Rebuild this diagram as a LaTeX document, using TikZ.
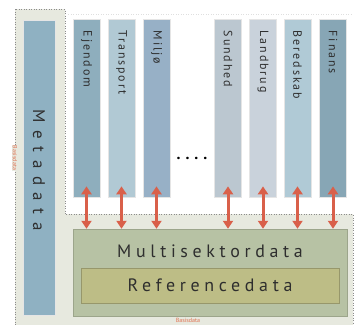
\documentclass[tikz,border=0pt]{standalone}
\usepackage{fontspec}
\setmainfont{PT Sans}
\newfontfamily\barfont[LetterSpace=16]{PT Sans}
\newfontfamily\widefont[LetterSpace=26]{PT Sans}
\newfontfamily\metafont[LetterSpace=45]{PT Sans}
\newfontfamily\dotfont[LetterSpace=30]{PT Sans}
\usetikzlibrary{arrows.meta, calc}

\definecolor{basis}{HTML}{E7E9DF}
\definecolor{basisline}{HTML}{8C8C8C}
\definecolor{metabar}{HTML}{8FB1C2}
\definecolor{ejendomc}{HTML}{8EAEBD}
\definecolor{transportc}{HTML}{B1C9D4}
\definecolor{miljoc}{HTML}{97B0C6}
\definecolor{sundhedc}{HTML}{BBC7D0}
\definecolor{landbrugc}{HTML}{C9D2DB}
\definecolor{beredskabc}{HTML}{B0CAD6}
\definecolor{finansc}{HTML}{87A6B5}
\definecolor{multic}{HTML}{B7C2A4}
\definecolor{refc}{HTML}{BDBD86}
\definecolor{linkc}{HTML}{D9604A}
\definecolor{labelred}{HTML}{E07050}
\definecolor{textc}{HTML}{2E2E2E}

\tikzset{
  sectorbar/.style={draw=white!80!gray, line width=0.6bp, minimum width=27bp,
    minimum height=178bp, inner sep=0pt},
  bartext/.style={rotate=-90, anchor=west, text=textc, inner sep=0pt,
    font=\barfont\fontsize{12}{12}\selectfont},
  link/.style={{Triangle[width=10bp,length=8bp]}-{Triangle[width=10bp,length=8bp]},
    line width=3bp, linkc},
  dotline/.style={basisline, line width=1bp, dash pattern=on 1bp off 1.5bp},
  redlabel/.style={text=labelred, inner sep=0.5bp, font=\fontsize{6}{6}\selectfont}
}

\begin{document}
\begin{tikzpicture}[x=1bp, y=-1bp]
  \useasboundingbox (0,0) rectangle (357,325);

  % Basisdata area
  \fill[basis] (15,9) -- (65,9) -- (65,214) -- (353,214) -- (353,330) -- (15,330) -- cycle;
  \draw[dotline] (15,330) -- (15,9) -- (65,9) -- (65,214) -- (353,214) -- (353,330);
  \draw[gray!25, line width=1bp, dash pattern=on 1bp off 1.5bp] (68,14) -- (352,14);

  % Metadata
  \node[fill=metabar, draw=white!80!gray, line width=0.6bp, minimum width=32bp,
    minimum height=295bp, inner sep=0pt] (meta) at (39,167.5) {};
  \node[rotate=-90, text=textc, font=\metafont\fontsize{17}{17}\selectfont]
    (metatext) at (39,170) {Metadata};

  % Sector bars
  \node[sectorbar, fill=ejendomc]   (ejendom)   at (86.5,108)  {};
  \node[sectorbar, fill=transportc] (transport) at (121.5,108) {};
  \node[sectorbar, fill=miljoc]     (miljo)     at (156.5,108) {};
  \node[sectorbar, fill=sundhedc]   (sundhed)   at (228,108)   {};
  \node[sectorbar, fill=landbrugc]  (landbrug)  at (263,108)   {};
  \node[sectorbar, fill=beredskabc] (beredskab) at (297.5,108) {};
  \node[sectorbar, fill=finansc]    (finans)    at (333,108)   {};

  \node[bartext] (ejendomtext)   at ([yshift=-12bp]ejendom.north)   {Ejendom};
  \node[bartext] (transporttext) at ([yshift=-12bp]transport.north) {Transport};
  \node[bartext] (miljotext)     at ([yshift=-12bp]miljo.north)     {Miljø};
  \node[bartext] (sundhedtext)   at ([yshift=-12bp]sundhed.north)   {Sundhed};
  \node[bartext] (landbrugtext)  at ([yshift=-12bp]landbrug.north)  {Landbrug};
  \node[bartext] (beredskabtext) at ([yshift=-12bp]beredskab.north) {Beredskab};
  \node[bartext] (finanstext)    at ([yshift=-12bp]finans.north)    {Finans};

  \node[font=\dotfont\fontsize{16}{16}\bfseries\selectfont, inner sep=0pt] (dots) at (192,158) {....};

  % Multisektordata and Referencedata
  \node[fill=multic, draw=multic!85!black, line width=0.5bp, minimum width=274bp,
    minimum height=87bp, inner sep=0pt] (multi) at (210,272.5) {};
  \node[text=textc, font=\widefont\fontsize{18}{18}\selectfont]
    (multitext) at (210,251) {Multisektordata};
  \node[fill=refc, draw=refc!80!black, line width=0.5bp, minimum width=258bp,
    minimum height=35bp, inner sep=0pt] (ref) at (210,285.5) {};
  \node[text=textc, font=\widefont\fontsize{18}{18}\selectfont]
    (reftext) at (ref.center) {Referencedata};

  % Arrows
  \draw[link] ([yshift=11bp]ejendom.south)   -- (ejendom.south |- multi.north);
  \draw[link] ([yshift=11bp]transport.south) -- (transport.south |- multi.north);
  \draw[link] ([yshift=11bp]miljo.south)     -- (miljo.south |- multi.north);
  \draw[link] ([yshift=11bp]sundhed.south)   -- (sundhed.south |- multi.north);
  \draw[link] ([yshift=11bp]landbrug.south)  -- (landbrug.south |- multi.north);
  \draw[link] ([yshift=11bp]beredskab.south) -- (beredskab.south |- multi.north);
  \draw[link] ([yshift=11bp]finans.south)    -- (finans.south |- multi.north);

  % Basisdata labels
  \node[redlabel, fill=basis, rotate=-90] (basisleft) at (15,158) {Basisdata};
  \node[redlabel, anchor=north] (basisbottom) at (188,317.5) {Basisdata};
\end{tikzpicture}
\end{document}
